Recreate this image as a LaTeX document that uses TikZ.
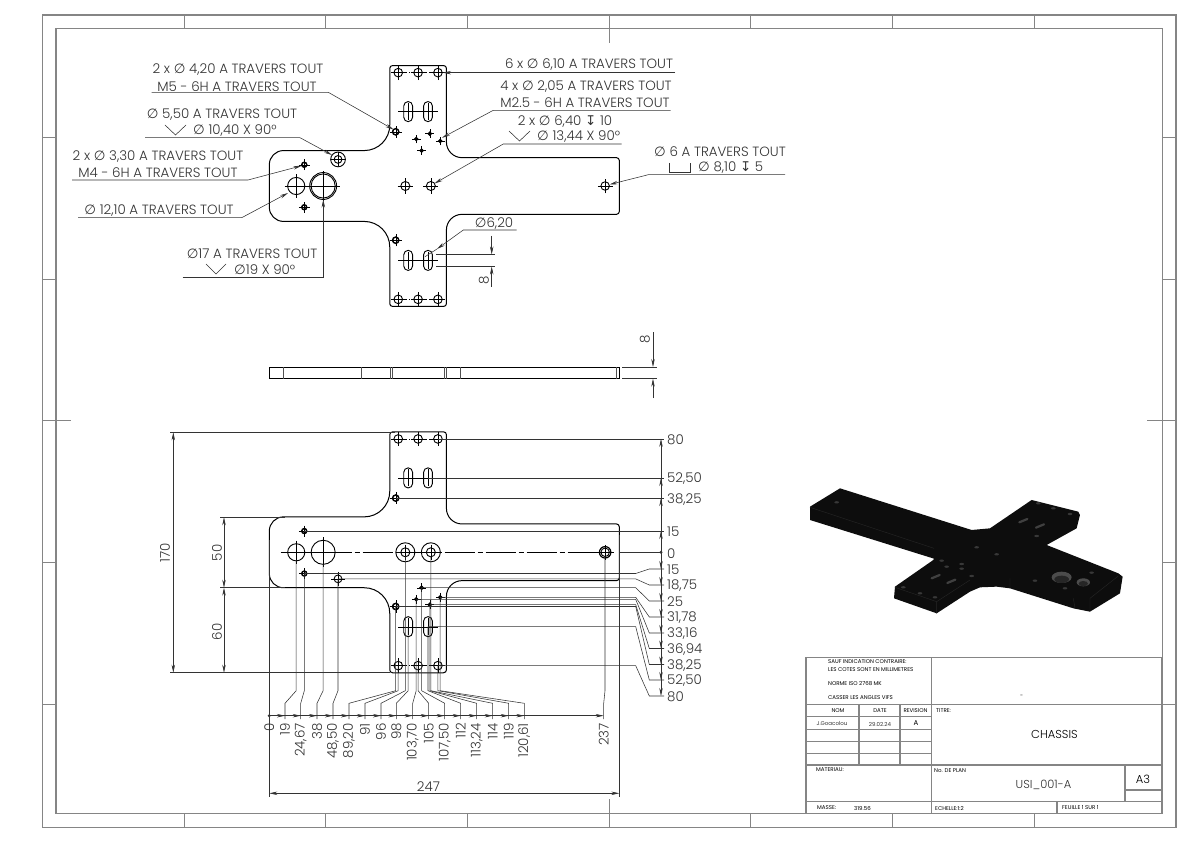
\documentclass[tikz,border=0pt]{standalone}
\usepackage{fontspec}
\setmainfont{Poppins Light}
\newfontfamily\symb{DejaVu Sans}
\newfontfamily\cart{Poppins}
\usetikzlibrary{arrows.meta, positioning}
\definecolor{cadre}{HTML}{858585}
\definecolor{encre}{HTML}{333333}
\tikzset{
  >={Stealth[length=8pt,width=3.4pt]}, % long narrow heads of the dimensions
  outl/.style={black, line width=.9pt}, % edges of the part
  cent/.style={black, line width=.35pt}, % centre marks
  dim/.style={encre, line width=.55pt}, % dimension and extension lines
  leader/.style={dim, ->},
  label/.style={inner sep=0pt, yshift=-1pt, text=encre, font=\fontsize{13.4}{15}\selectfont},
  cotev/.style={label, rotate=90},
  frameline/.style={cadre, line width=1.5pt},
  tick/.style={cadre, line width=.9pt},
  tiny/.style={inner sep=0pt, anchor=west, text=black, font=\cart\fontsize{5.5}{6.5}\selectfont},
}
\newcommand{\dia}{{\symb ∅}}
\newcommand{\prof}{{\symb ↧}}
% hole: x, y, radius in mm
\newcommand{\hole}[3]{
  \draw[outl] (#1,#2) circle[radius=#3];
  \draw[cent] (#1-#3-2.2,#2) -- (#1+#3+2.2,#2) (#1,#2-#3-2.2) -- (#1,#2+#3+2.2);
}
% threaded hole, drawn heavier
\newcommand{\thole}[3]{
  \hole{#1}{#2}{#3}
  \draw[black, line width=1.3pt] (#1,#2) circle[radius=#3+.15];
}
\newcommand{\slot}[2]{
  \draw[outl] (#1-3.1,#2-4) -- (#1-3.1,#2+4) arc[start angle=180, end angle=0, radius=3.1]
    -- (#1+3.1,#2-4) arc[start angle=0, end angle=-180, radius=3.1] -- cycle;
  \draw[cent] (#1-7,#2) -- (#1+7,#2) (#1,#2-6) -- (#1,#2+6);
}
\newcommand{\plate}{
  \draw[outl, line width=1pt] (10,25) -- (67,25) arc[start angle=-90, end angle=0, radius=18]
    -- (85,83) arc[start angle=180, end angle=90, radius=2]
    -- (123,85) arc[start angle=90, end angle=0, radius=2]
    -- (125,31) arc[start angle=180, end angle=270, radius=11]
    -- (245,20) arc[start angle=90, end angle=0, radius=2]
    -- (247,-18) arc[start angle=0, end angle=-90, radius=2]
    -- (136,-20) arc[start angle=90, end angle=180, radius=11]
    -- (125,-83) arc[start angle=0, end angle=-90, radius=2]
    -- (87,-85) arc[start angle=-90, end angle=-180, radius=2]
    -- (85,-43) arc[start angle=0, end angle=90, radius=18]
    -- (10,-25) arc[start angle=-90, end angle=-180, radius=10]
    -- (0,15) arc[start angle=180, end angle=90, radius=10] -- cycle;
  \foreach \xh in {91,105,119} {
    \hole{\xh}{80}{3.05}
    \hole{\xh}{-80}{3.05}
  }
  \foreach \yh in {80,-80}
    \draw[cent, dash pattern=on 5pt off 2pt on 1pt off 2pt] (86.5,\yh) -- (123.5,\yh);
  \foreach \xh in {98,112} {
    \slot{\xh}{52.5}
    \slot{\xh}{-52.5}
  }
  \hole{19}{0}{6.05}
  \thole{24.67}{15}{1.65}
  \thole{24.67}{-15}{1.65}
  \thole{89.2}{38.25}{2.1}
  \thole{89.2}{-38.25}{2.1}
  \thole{103.7}{33.16}{.9}
  \thole{113.24}{36.94}{.9}
  \thole{107.5}{25}{.9}
  \thole{120.61}{31.78}{.9}
}
\begin{document}
\begin{tikzpicture}[x=1pt, y=-1pt]
  \useasboundingbox (0,0) rectangle (1191,842);
  \fill[white] (0,0) rectangle (1191,842);

  % sheet frame
  \draw[frameline] (42.7,15) rectangle (1176,827.7);
  \draw[frameline] (56,28.3) rectangle (1162.3,813.3);
  \foreach \xt in {184,325.7,467.4,750.8,892.5,1034} {
    \draw[tick] (\xt,15) -- (\xt,28.3);
    \draw[tick] (\xt,813.3) -- (\xt,827.7);
  }
  \draw[tick] (609,15) -- (609,43);
  \draw[tick] (609,799) -- (609,827.7);
  \foreach \yt in {137.3,279,562.7,704.3} {
    \draw[tick] (42.7,\yt) -- (56,\yt);
    \draw[tick] (1162.3,\yt) -- (1176,\yt);
  }
  \draw[tick] (42.7,420.7) -- (71,420.7);
  \draw[tick] (1147,420.7) -- (1176,420.7);

  % top view
  \begin{scope}[shift={(269.3,186)}, x=1.417pt, y=1.417pt]
    \plate
    \hole{38}{0}{8.5}
    \draw[outl] (38,0) circle[radius=9.5];
    \hole{48.5}{18.75}{2.75}
    \draw[outl] (48.5,18.75) circle[radius=5.2];
    \hole{96}{0}{3.2}
    \hole{114}{0}{3.2}
    \hole{237}{0}{3}
    \draw[cent, dash pattern=on 5pt off 2pt] (14,0) -- (50,0);
  \end{scope}

  % side view
  \draw[outl, line width=1pt] (269.3,367) rectangle (619.3,378.7);
  \foreach \xs in {283.3,361.7,390.7,392.6,444.3,446.7,460.7,616.7}
    \draw[cadre!60!black, line width=.7pt] (\xs,367) -- (\xs,378.7);

  % bottom view
  \begin{scope}[shift={(269.3,552.3)}, x=1.417pt, y=-1.417pt]
    \plate
    \hole{38}{0}{8.5}
    \hole{48.5}{18.75}{2.75}
    \hole{96}{0}{3.2}
    \draw[outl] (96,0) circle[radius=6.72];
    \hole{114}{0}{3.2}
    \draw[outl] (114,0) circle[radius=6.72];
    \hole{237}{0}{3}
    \draw[outl, line width=1.2pt] (237,0) circle[radius=4.05];
    \draw[cent, dash pattern=on 30pt off 3pt on 5pt off 3pt] (8,0) -- (243,0);
  \end{scope}

  % isometric view
  \begin{scope}[shift={(790,470)}, x=.3333pt, y=-.3333pt]
    \fill[black!95] (60,110) -- (150,55) -- (545,180) -- (600,175) -- (725,90)
      -- (865,125) -- (870,135) -- (860,175) -- (770,225) -- (985,310) -- (998,320)
      -- (990,370) -- (900,425) -- (850,415) -- (660,355) -- (620,350) -- (570,352)
      -- (540,365) -- (440,430) -- (312,385) -- (315,350) -- (430,270) -- (432,266)
      -- (60,150) -- cycle;
    \foreach \xe/\ye/\xr/\yr in {815/322/30/17, 880/337/20/12}
      \fill[black!70] (\xe,\ye) ellipse[x radius=\xr, y radius=\yr];
    \foreach \xe/\ye/\xr/\yr in {815/328/22/11, 880/341/14/8}
      \fill[black!85] (\xe,\ye) ellipse[x radius=\xr, y radius=\yr];
    \foreach \xe/\ye in {140/97,560/232,620/253,745/100,790/115,840/132,740/198,735/332,905/308,825/355,
      545/318,340/352,390/370,435/382,515/282,515/296,470/290,455/272}
      \fill[black!78] (\xe,\ye) ellipse[x radius=7, y radius=3.5];
    \foreach \xe/\ye in {700/152,750/168,437/320,484/334}
      \draw[black!75, line width=2.2pt, line cap=round] (\xe-12,\ye+5) -- (\xe+12,\ye-5);
    \draw[black!85, line width=.4pt] (60,112) -- (432,235) (315,352) -- (440,395) -- (540,330)
      (440,395) -- (440,430) (855,415) -- (850,385) (660,325) -- (660,355) (985,318) -- (900,385) -- (900,425);
  \end{scope}

  % leaders of the top view
  \node[label] (t1) at (238,69) {2 x \dia{} 4,20 A TRAVERS TOUT};
  \node[label] (t1b) at (237,86) {M5 - 6H A TRAVERS TOUT};
  \coordinate (a1) at (151.7,92.3);
  \coordinate (a2) at (328.3,92.3);
  \coordinate (a3) at (393.5,129.5);
  \draw[leader] (a1) -- (a2) -- (a3);
  \node[label] (t2) at (222,114) {\dia{} 5,50 A TRAVERS TOUT};
  \node[label, anchor=west] (t2b) at (193,130) {\dia{} 10,40 X 90°};
  \coordinate (b1) at (145,137.7);
  \coordinate (b2) at (300,137.7);
  \coordinate (b3) at (332,155);
  \draw[leader] (b1) -- (b2) -- (b3);
  \draw[dim] (165,125) -- (175.5,135) -- (186,125);
  \node[label] (t3) at (158,156) {2 x \dia{} 3,30 A TRAVERS TOUT};
  \node[label] (t3b) at (158,172) {M4 - 6H A TRAVERS TOUT};
  \coordinate (c1) at (72,180);
  \coordinate (c2) at (248,180);
  \coordinate (c3) at (301.5,165.8);
  \draw[leader] (c1) -- (c2) -- (c3);
  \node[label] (t4) at (159,210) {\dia{} 12,10 A TRAVERS TOUT};
  \coordinate (d1) at (78,217.7);
  \coordinate (d2) at (241.7,217.7);
  \coordinate (d3) at (288,193);
  \draw[leader] (d1) -- (d2) -- (d3);
  \node[label] (t5) at (252,253) {\dia{}17 A TRAVERS TOUT};
  \node[label, anchor=west] (t5b) at (234,269) {\dia{}19 X 90°};
  \coordinate (e1) at (182.7,277);
  \coordinate (e2) at (323.3,277);
  \coordinate (e3) at (323.3,199.5);
  \draw[leader] (e1) -- (e2) -- (e3);
  \draw[dim] (206,264) -- (216,274) -- (226,264);
  \node[label] (t6) at (589,64) {6 x \dia{} 6,10 A TRAVERS TOUT};
  \coordinate (f1) at (675,72.7);
  \coordinate (f2) at (443,72.7);
  \draw[leader] (f1) -- (f2);
  \node[label] (t7) at (586,86) {4 x \dia{} 2,05 A TRAVERS TOUT};
  \node[label] (t7b) at (585,102) {M2.5 - 6H A TRAVERS TOUT};
  \coordinate (g1) at (670.7,110.3);
  \coordinate (g2) at (493.3,110.3);
  \coordinate (g3) at (442,137.8);
  \draw[leader] (g1) -- (g2) -- (g3);
  \node[label] (t8) at (565,121) {2 x \dia{} 6,40 \prof{} 10};
  \node[label, anchor=west] (t8b) at (537,136) {\dia{} 13,44 X 90°};
  \coordinate (h1) at (621.7,144);
  \coordinate (h2) at (503.3,144);
  \coordinate (h3) at (434.5,183.5);
  \draw[leader] (h1) -- (h2) -- (h3);
  \draw[dim] (509,131) -- (519.5,141) -- (530,131);
  \node[label] (t9) at (720,151) {\dia{} 6 A TRAVERS TOUT};
  \node[label, anchor=west] (t9b) at (698,167) {\dia{} 8,10 \prof{} 5};
  \coordinate (i1) at (785,174.7);
  \coordinate (i2) at (648.3,174.7);
  \coordinate (i3) at (609.5,184.5);
  \draw[leader] (i1) -- (i2) -- (i3);
  \draw[dim] (669.5,163) -- (669.5,172) -- (690,172) -- (690,163);
  \node[label] (t10) at (494,223) {\dia{}6,20};
  \coordinate (j1) at (516.7,230);
  \coordinate (j2) at (463.3,230);
  \coordinate (j3) at (437,249);
  \coordinate (j4) at (425,256.7);
  \draw[leader] (j1) -- (j2) -- (j3);
  \draw[dim] (j3) -- (j4);

  % slot height
  \coordinate (k1) at (436,254.5);
  \coordinate (k2) at (495,254.5);
  \coordinate (k3) at (436,266.5);
  \coordinate (k4) at (495,266.5);
  \coordinate (k5) at (491.7,236);
  \coordinate (k6) at (491.7,254.5);
  \coordinate (k7) at (491.7,287);
  \coordinate (k8) at (491.7,266.5);
  \draw[dim] (k1) -- (k2) (k3) -- (k4);
  \draw[leader] (k5) -- (k6);
  \draw[leader] (k7) -- (k8);
  \node[cotev] (l8) at (484,279) {8};

  % thickness
  \coordinate (m1) at (622,367);
  \coordinate (m2) at (657,367);
  \coordinate (m3) at (622,378.7);
  \coordinate (m4) at (657,378.7);
  \coordinate (m5) at (653,332);
  \coordinate (m6) at (653,367);
  \coordinate (m7) at (653,398);
  \coordinate (m8) at (653,378.7);
  \draw[dim] (m1) -- (m2) (m3) -- (m4);
  \draw[leader] (m5) -- (m6);
  \draw[leader] (m7) -- (m8);
  \node[cotev] (l9) at (645,338) {8};

  % outer dimensions on the left
  \coordinate (n1) at (170,432.3);
  \coordinate (n2) at (395,432.3);
  \coordinate (n3) at (170,672.7);
  \coordinate (n4) at (390,672.7);
  \coordinate (n5) at (173.3,432.3);
  \coordinate (n6) at (173.3,672.7);
  \draw[dim] (n1) -- (n2) (n3) -- (n4);
  \draw[dim, <->] (n5) -- (n6);
  \node[cotev] (l170) at (165,552) {170};
  \coordinate (n7) at (220,517.3);
  \coordinate (n8) at (285,517.3);
  \coordinate (n9) at (220,587.7);
  \coordinate (n10) at (285,587.7);
  \coordinate (n11) at (224,517.3);
  \coordinate (n12) at (224,587.7);
  \coordinate (n13) at (224,672.7);
  \draw[dim] (n7) -- (n8) (n9) -- (n10);
  \draw[dim, <->] (n11) -- (n12);
  \draw[dim, <->] (n12) -- (n13);
  \node[cotev] (l50) at (217,552) {50};
  \node[cotev] (l60) at (217,631) {60};

  % total length
  \coordinate (o1) at (269.3,540);
  \coordinate (o2) at (269.3,797);
  \coordinate (o3) at (619.3,535);
  \coordinate (o4) at (619.3,797);
  \coordinate (o5) at (269.3,793.3);
  \coordinate (o6) at (619.3,793.3);
  \draw[dim] (o1) -- (o2) (o3) -- (o4);
  \draw[dim, <->] (o5) -- (o6);
  \node[label] (l247) at (428.5,785.5) {247};

  % ordinate dimensions, right
  \coordinate (p0) at (661,552.3);
  \fill[encre] (p0) circle[radius=1.6];
  \node[label, anchor=west] (yzero) at (667,552.3) {0};
  \draw[dim] (620,552.3) -- (p0);
  \foreach \xf/\yf/\lab in {438/438.9/80, 428/478/{52,50}, 395.7/498.1/{38,25}, 304.3/531/15} {
    \draw[dim] (\xf,\yf) -- (664,\yf);
    \draw[dim, ->] (p0) -- (661,\yf);
    \node[label, anchor=west] at (667,\yf) {\lab};
  }
  \foreach \xf/\yf/\yl/\lab in {304.3/573.5/569/15, 338/578.9/585/{18,75}, 421.6/587.7/601/25,
    440.2/597.3/617/{31,78}, 416.2/599.3/633/{33,16}, 429.8/604.6/648.5/{36,94},
    395.7/606.5/664.5/{38,25}, 428/626.7/680/{52,50}, 438/665.7/696/80} {
    \draw[dim] (\xf,\yf) -- (635.7,\yf) -- (649.3,\yl) -- (664,\yl);
    \draw[dim, ->] (p0) -- (661,\yl);
    \node[label, anchor=west] at (667,\yl) {\lab};
  }

  % ordinate dimensions, bottom
  \coordinate (q0) at (269.3,715.7);
  \fill[encre] (q0) circle[radius=1.6];
  \node[cotev, anchor=east] (xzero) at (269.3,722) {0};
  \foreach \xf/\yf/\xl/\lab in {296.2/560/285/19, 304.3/573.5/300.7/{24,67}, 323.1/564/317/38,
    338/578.9/333/{48,50}, 395.7/606.5/349/{89,20}, 398.2/665.7/365/91, 405.3/556/381/96,
    408.2/626.7/396.3/98, 416.2/599.3/412.7/{103,70}, 418.1/665.7/428.7/105,
    421.6/587.7/444.7/{107,50}, 428/626.7/460.7/112, 429.8/604.6/476.7/{113,24},
    430.8/556/492.7/114, 437.9/665.7/508.7/119, 440.2/597.3/524.3/{120,61}, 605/556/603.7/237} {
    \draw[dim] (\xf,\yf) -- (\xf,690.7) -- (\xl,703.3) -- (\xl,719);
    \draw[dim, ->] (q0) -- (\xl,715.7);
    \node[cotev, anchor=east] at (\xl,722) {\lab};
  }

  % title block
  \begin{scope}[frameline]
    \draw (806,657.3) rectangle (1161.7,813.3);
    \draw (931.7,657.3) -- (931.7,813.3);
    \draw (806,704.3) -- (1161.7,704.3);
    \draw (806,716.7) -- (931.7,716.7) (806,729.3) -- (931.7,729.3);
    \draw (806,741.7) -- (931.7,741.7) (806,753.3) -- (931.7,753.3);
    \draw (806,765) -- (1161.7,765);
    \draw (806,801.7) -- (1161.7,801.7);
    \draw (859,704.3) -- (859,765) (900,704.3) -- (900,765);
    \draw (1125,765) -- (1125,801.7) (1125,790) -- (1161.7,790);
    \draw (1057,801.7) -- (1057,813.3);
  \end{scope}
  \node[tiny] (bl1) at (828,661.5) {SAUF INDICATION CONTRAIRE:};
  \node[tiny] (bl2) at (828,669.5) {LES COTES SONT EN MILLIMETRES};
  \node[tiny] (bl3) at (828,684) {NORME ISO 2768 MK};
  \node[tiny] (bl4) at (828,698) {CASSER LES ANGLES VIFS};
  \node[tiny, anchor=center] (bl5) at (838,711) {NOM};
  \node[tiny, anchor=center] (bl6) at (880,711) {DATE};
  \node[tiny, anchor=center] (bl7) at (915.5,711) {REVISION};
  \node[tiny] (bl8) at (936,711) {TITRE:};
  \node[tiny, anchor=center, text=encre] (bl9) at (832,723) {J.Goacolou};
  \node[tiny, anchor=center, text=encre] (bl10) at (880,724) {29.02.24};
  \node[tiny, anchor=center, font=\cart\fontsize{7}{8}\selectfont] (bl11) at (916,723) {A};
  \node[tiny] (bl12) at (816,769.5) {MATERIAU:};
  \node[tiny] (bl13) at (934,770.5) {No. DE PLAN};
  \node[tiny] (bl14) at (817,808) {MASSE:};
  \node[tiny] (bl15) at (854,808) {319.56};
  \node[tiny] (bl16) at (935,808) {ECHELLE:1:2};
  \node[tiny] (bl17) at (1062,808) {FEUILLE 1 SUR 1};
  \node[tiny, anchor=center] (bl18) at (1021.7,696) {-};
  \node[label, text=black, font=\fontsize{11.5}{13}\selectfont] (chassis) at (1054.5,733.5) {CHASSIS};
  \node[label, font=\fontsize{11.5}{13}\selectfont] (plan) at (1043.5,783.5) {USI\_001-A};
  \node[label, text=black, font=\fontsize{11.5}{13}\selectfont] (fmt) at (1143,778) {A3};
\end{tikzpicture}
\end{document}
